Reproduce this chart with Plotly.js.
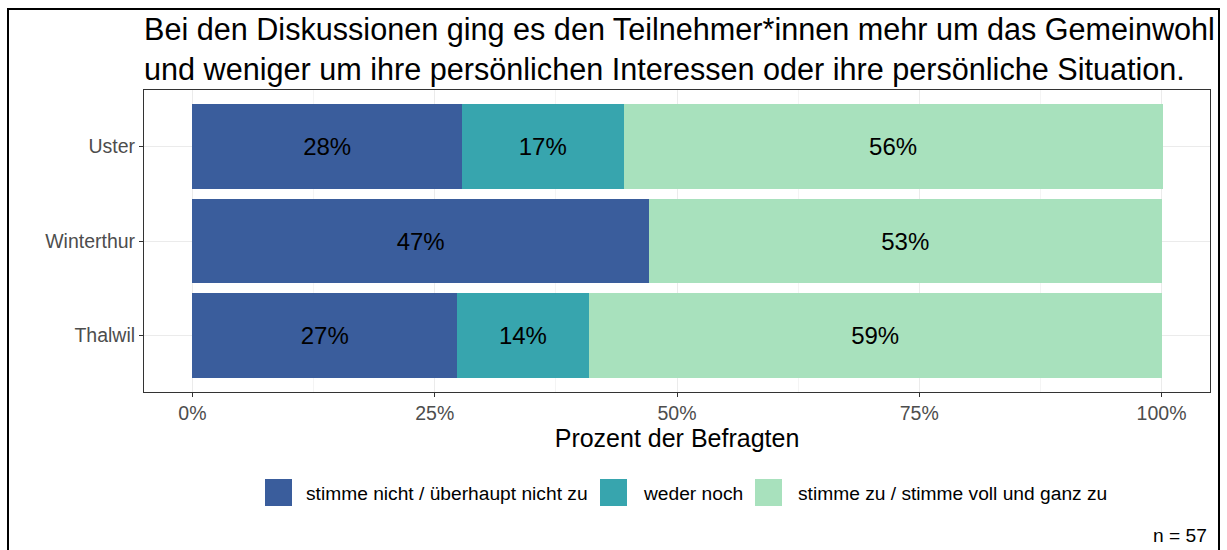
<!DOCTYPE html>
<html><head><meta charset="utf-8">
<script src="https://cdn.plot.ly/plotly-3.0.1.min.js"></script>
<style>html,body{margin:0;padding:0;background:#fff}#chart{width:1227px;height:550px}</style>
</head><body><div id="chart"></div>
<script>
const categories = ['Uster', 'Winterthur', 'Thalwil'];
const seriesNames = ['stimme nicht / überhaupt nicht zu', 'weder noch', 'stimme zu / stimme voll und ganz zu'];
const disagree = [27.8, 47.1, 27.3];
const neutral = [16.7, 0, 13.6];
const agree = [55.6, 52.9, 59.1];
const seriesColors = ['#3A5D9C', '#37A5AE', '#A8E1BD'];
const xTickVals = [0, 25, 50, 75, 100];
const xTickText = ['0%', '25%', '50%', '75%', '100%'];
const xMinorVals = [12.5, 37.5, 62.5, 87.5];
const sampleNote = 'n = 57';
const titleText = 'Bei den Diskussionen ging es den Teilnehmer*innen mehr um das Gemeinwohl<br>und weniger um ihre persönlichen Interessen oder ihre persönliche Situation.';
const xTitle = 'Prozent der Befragten';

const FONT = 'Arial, "Liberation Sans", sans-serif';
const W = 1227, H = 550, M = {l: 144, r: 17, t: 90, b: 158};
const pw = W - M.l - M.r, ph = H - M.t - M.b;
const px = x => (x - M.l) / pw;
const py = y => (H - M.b - y) / ph;

const series = [disagree, neutral, agree];
const traces = series.map((vals, i) => ({
  type: 'bar', orientation: 'h', y: categories, x: vals, name: seriesNames[i],
  marker: {color: seriesColors[i], line: {width: 0}}, width: 0.9,
  text: vals.map(v => v > 0 ? Math.round(v) + '%' : ''),
  textposition: 'inside', insidetextanchor: 'middle', textangle: 0,
  textfont: {family: FONT, size: 24, color: '#000'}, constraintext: 'none',
  hoverinfo: 'skip', showlegend: false
}));

const swatchX = [265, 600, 755];
const labelX = [304, 641, 796];
const shapes = [{
  type: 'rect', xref: 'paper', yref: 'paper',
  x0: px(8), x1: px(1219), y0: py(620), y1: py(9),
  line: {color: '#000', width: 2}, fillcolor: 'rgba(0,0,0,0)', layer: 'above'
}];
const annotations = [];
seriesNames.forEach((n, i) => {
  shapes.push({type: 'rect', xref: 'paper', yref: 'paper',
    x0: px(swatchX[i]), x1: px(swatchX[i] + 27), y0: py(506), y1: py(479),
    line: {width: 0}, fillcolor: seriesColors[i]});
  annotations.push({xref: 'paper', yref: 'paper', x: px(labelX[i]), y: py(493),
    xanchor: 'left', yanchor: 'middle', showarrow: false, text: n,
    font: {family: FONT, size: 19.2, color: '#000'}});
});
annotations.push({xref: 'paper', yref: 'paper', x: px(1209), y: py(535),
  xanchor: 'right', yanchor: 'middle', showarrow: false, text: sampleNote,
  font: {family: FONT, size: 19.2, color: '#000'}});

const layout = {
  width: W, height: H, margin: M, barmode: 'stack', bargap: 0.1,
  paper_bgcolor: '#fff', plot_bgcolor: '#fff',
  font: {family: FONT, color: '#000'},
  title: {text: titleText, xref: 'paper', x: 0, xanchor: 'left', yref: 'container', y: 1 - 40 / H, yanchor: 'top',
    font: {family: FONT, size: 30.6, color: '#000'}},
  xaxis: {range: [-5, 105], tickvals: xTickVals, ticktext: xTickText,
    ticks: 'outside', ticklen: 4, tickcolor: '#333', tickwidth: 1,
    showgrid: true, gridcolor: '#EBEBEB', gridwidth: 1,
    minor: {tickvals: xMinorVals, showgrid: true, gridcolor: '#F4F4F4', gridwidth: 1, ticks: ''},
    zeroline: false, showline: true, mirror: true, linecolor: '#333', linewidth: 1,
    tickfont: {family: FONT, size: 19.5, color: '#4D4D4D'},
    title: {text: xTitle, standoff: 4, font: {family: FONT, size: 25, color: '#000'}}},
  yaxis: {categoryorder: 'array', categoryarray: categories, range: [2.6, -0.6],
    ticks: 'outside', ticklen: 4, tickcolor: '#333', tickwidth: 1,
    showgrid: true, gridcolor: '#EBEBEB', gridwidth: 1,
    zeroline: false, showline: true, mirror: true, linecolor: '#333', linewidth: 1,
    tickfont: {family: FONT, size: 19.5, color: '#4D4D4D'}},
  shapes: shapes, annotations: annotations
};
Plotly.newPlot('chart', traces, layout, {displayModeBar: false, staticPlot: true});
</script></body></html>
